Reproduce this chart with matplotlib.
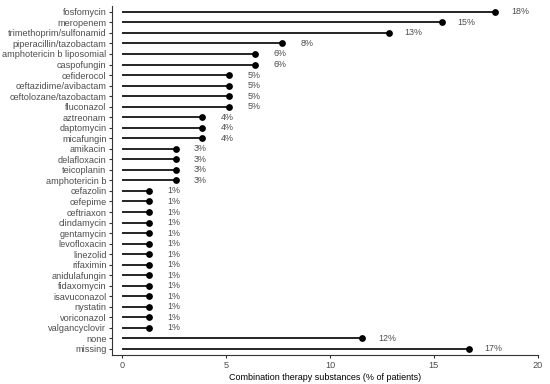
import matplotlib
matplotlib.use("Agg")
import matplotlib.pyplot as plt

plt.rcParams['font.family'] = ['Liberation Sans', 'DejaVu Sans']

substances = ["fosfomycin", "meropenem", "trimethoprim/sulfonamid", "piperacillin/tazobactam",
              "amphotericin b liposomial", "caspofungin", "cefiderocol", "ceftazidime/avibactam",
              "ceftolozane/tazobactam", "fluconazol", "aztreonam", "daptomycin", "micafungin",
              "amikacin", "delafloxacin", "teicoplanin", "amphotericin b", "cefazolin", "cefepime",
              "ceftriaxon", "clindamycin", "gentamycin", "levofloxacin", "linezolid", "rifaximin",
              "anidulafungin", "fidaxomycin", "isavuconazol", "nystatin", "voriconazol",
              "valgancyclovir", "none", "missing"]
percent = [17.95, 15.38, 12.82, 7.69, 6.41, 6.41, 5.13, 5.13, 5.13, 5.13, 3.85, 3.85, 3.85,
           2.56, 2.56, 2.56, 2.56, 1.28, 1.28, 1.28, 1.28, 1.28, 1.28, 1.28, 1.28, 1.28, 1.28,
           1.28, 1.28, 1.28, 1.28, 11.54, 16.67]
labels = [f"{round(v):d}%" for v in percent]
xticks = [0, 5, 10, 15, 20]

fig = plt.figure(figsize=(5.5, 3.84), dpi=100)
ax = fig.add_axes([112/550, (384-355.3)/384, (537.7-112)/550, (355.3-5.5)/384])

n = len(substances)
ys = list(range(n))
for y, v, lab in zip(ys, percent, labels):
    ax.plot([0, v], [y, y], color='black', lw=1.2, solid_capstyle='butt', zorder=2)
    ax.text(v + 1.2, y, lab, ha='center', va='center', fontsize=6.4, color='#4d4d4d')
ax.scatter(percent, ys, s=24, color='black', zorder=3, linewidths=0)

ax.set_ylim(n - 0.4, -0.6)
ax.set_xlim(-0.5, 20)
ax.set_yticks(ys)
ax.set_yticklabels(substances)
ax.set_xticks(xticks)
ax.set_xticklabels([str(t) for t in xticks])
ax.tick_params(axis='y', labelsize=6.6, labelcolor='#4d4d4d', color='#333333',
               length=2.5, width=0.8, pad=1.5)
ax.tick_params(axis='x', labelsize=6.6, labelcolor='#4d4d4d', color='#333333',
               length=2.5, width=0.8, pad=1.5)
for s in ['top', 'right']:
    ax.spines[s].set_visible(False)
for s in ['left', 'bottom']:
    ax.spines[s].set_linewidth(0.8)
    ax.spines[s].set_color('#333333')
ax.set_xlabel("Combination therapy substances (% of patients)", fontsize=6.5, color='black', labelpad=2)

fig.savefig("out.png", dpi=100)
